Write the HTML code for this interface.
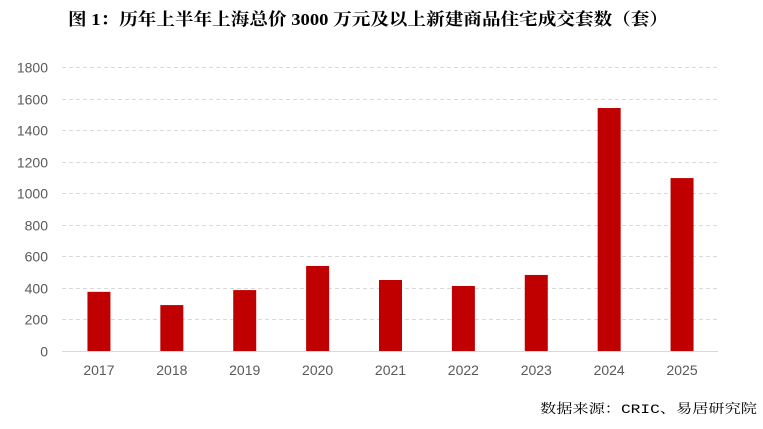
<!DOCTYPE html>
<html><head><meta charset="utf-8">
<style>
html,body{margin:0;padding:0;background:#fff;}
body{width:763px;height:424px;overflow:hidden;position:relative;}
svg text{font-family:"Liberation Sans","Noto Sans CJK SC",sans-serif;}
</style></head>
<body>
<svg id="chart" width="763" height="424" viewBox="0 0 763 424" xmlns="http://www.w3.org/2000/svg">
<text x="68" y="25" font-size="17" font-weight="bold" fill="#000" textLength="600" lengthAdjust="spacingAndGlyphs" style="font-family:'Liberation Serif','Noto Serif CJK SC',serif">图 1：历年上半年上海总价 3000 万元及以上新建商品住宅成交套数（套）</text>
<g id="grid"></g>
<g id="yticks"></g>
<g id="bars"></g>
<g id="xticks"></g>
<line x1="62" y1="351.5" x2="718" y2="351.5" stroke="#d9d9d9" stroke-width="1"/>
<text x="540" y="413" font-size="13" textLength="217" lengthAdjust="spacingAndGlyphs" fill="#000" style="font-family:'Liberation Mono','Noto Serif CJK SC',monospace">数据来源：CRIC、易居研究院</text>
</svg>
<script>
const categories=["2017","2018","2019","2020","2021","2022","2023","2024","2025"];
const values=[375,291,386,539,450,412,482,1540,1096];
const yTicks=[0,200,400,600,800,1000,1200,1400,1600,1800];
const NS="http://www.w3.org/2000/svg";
const x0=62,x1=718,y0=351,yTop=67,yMax=1800;
const band=(x1-x0)/categories.length;
function yScale(v){return y0-(v/yMax)*(y0-yTop);}
function xCenter(i){return x0+band*(i+0.5)+0.5;}
const grid=document.getElementById('grid'),yt=document.getElementById('yticks'),bars=document.getElementById('bars'),xt=document.getElementById('xticks');
yTicks.forEach(t=>{
  const y=Math.round(yScale(t))+0.5;
  if(t>0){
    const l=document.createElementNS(NS,'line');
    
    
    l.setAttribute('x1',x0);l.setAttribute('x2',x1);l.setAttribute('y1',y);l.setAttribute('y2',y);
    l.setAttribute('stroke','#d9d9d9');l.setAttribute('stroke-dasharray','4,3');
    grid.appendChild(l);
  }
  const tx=document.createElementNS(NS,'text');
  
  
  tx.setAttribute('x',48);tx.setAttribute('y',y+5);tx.setAttribute('text-anchor','end');
  tx.setAttribute('font-size','14');tx.setAttribute('fill','#595959');
  tx.textContent=t;yt.appendChild(tx);
});
categories.forEach((c,i)=>{
  const cx=xCenter(i),w=23;
  const r=document.createElementNS(NS,'rect');
  
  
  const yt2=yScale(values[i]);
  r.setAttribute('x',cx-w/2);r.setAttribute('y',yt2);r.setAttribute('width',w);r.setAttribute('height',y0-yt2);
  r.setAttribute('fill','#c00000');
  bars.appendChild(r);
  const tx=document.createElementNS(NS,'text');
  
  
  tx.setAttribute('x',cx);tx.setAttribute('y',375);tx.setAttribute('text-anchor','middle');
  tx.setAttribute('font-size','14');tx.setAttribute('fill','#595959');
  tx.textContent=c;xt.appendChild(tx);
});
</script>
</body></html>
